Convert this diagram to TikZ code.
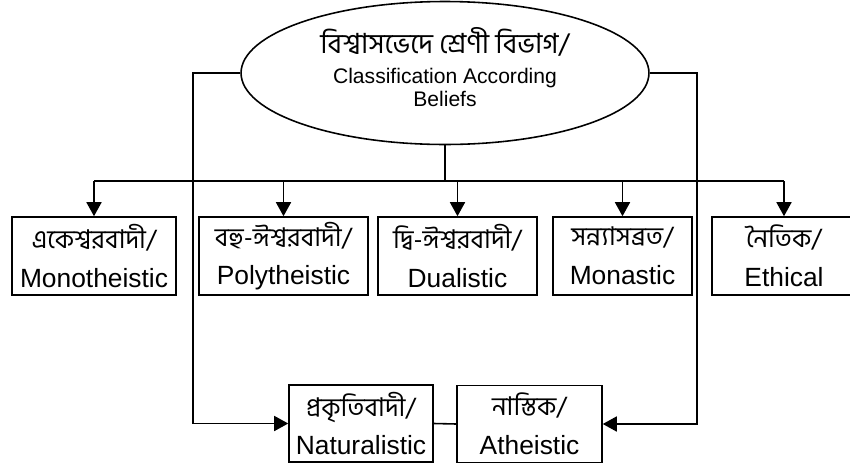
\documentclass[tikz,border=0pt]{standalone}
\usepackage{fontspec}
\setmainfont{Liberation Sans}
\newfontfamily\bn[Script=Bengali]{Hind Siliguri}
\usetikzlibrary{shapes.geometric,arrows.meta}
\newcommand{\bntext}[1]{{\bn\fontsize{14.7}{18}\selectfont #1}}
\tikzset{
	cls/.style={draw,line width=0.9pt,rectangle,align=center,inner sep=0pt,
		minimum height=1.56cm,font=\fontsize{15}{22}\selectfont},
	flow/.style={line width=0.9pt,-{Triangle[length=0.28cm,width=0.3cm]}},
}

\begin{document}
\begin{tikzpicture}[x=0.02cm,y=-0.02cm]
	\useasboundingbox (0,0) rectangle (850,467);
	%beliefs
	\node[draw,ellipse,line width=0.9pt,inner sep=0pt,minimum width=8.16cm,
		minimum height=2.86cm,align=center,text depth=7pt,
		font=\fontsize{12}{13.1}\selectfont](bel) at (445,73)
	{{\bn\fontsize{15.8}{19}\selectfont বিশ্বাসভেদে শ্রেণী বিভাগ/}\\[4pt]Classification According\\Beliefs};

	%classes
	\node[cls,minimum width=3.28cm](mono) at (94,256) {\bntext{একেশ্বরবাদী/}\\Monotheistic};
	\node[cls,minimum width=3.38cm](poly) at (283.5,256) {\bntext{বহু-ঈশ্বরবাদী/}\\Polytheistic};
	\node[cls,minimum width=3.18cm](dual) at (457.5,256) {\bntext{দ্বি-ঈশ্বরবাদী/}\\Dualistic};
	\node[cls,minimum width=2.78cm](mon) at (622.5,256) {\bntext{সন্ন্যাসব্রত/}\\Monastic};
	\node[cls,minimum width=2.88cm](eth) at (784,256) {\bntext{নৈতিক/}\\Ethical};

	%bottom
	\node[cls,minimum width=2.88cm,minimum height=1.54cm](nat) at (361,423.5) {\bntext{প্রকৃতিবাদী/}\\Naturalistic};
	\node[cls,minimum width=2.9cm,minimum height=1.54cm](ath) at (529.5,424) {\bntext{নাস্তিক/}\\Atheistic};

	%bus
	\coordinate (bus) at (445,181);
	\draw[line width=1.3pt] (bel.south) -- (bus);
	\draw[line width=0.9pt] (mono.north |- bus) -- (eth.north |- bus);
	\foreach \c in {mono,poly,dual,mon,eth}
		\draw[flow] (\c.north |- bus) -- (\c.north);

	%sides
	\coordinate (lft) at (193,73);
	\coordinate (rgt) at (697,73);
	\draw[flow] (bel.west) -- (lft) |- (nat.west);
	\draw[flow] (bel.east) -- (rgt) |- (ath.east);
	\draw[line width=0.9pt] (nat.east) -- (ath.west);
\end{tikzpicture}
\end{document}
